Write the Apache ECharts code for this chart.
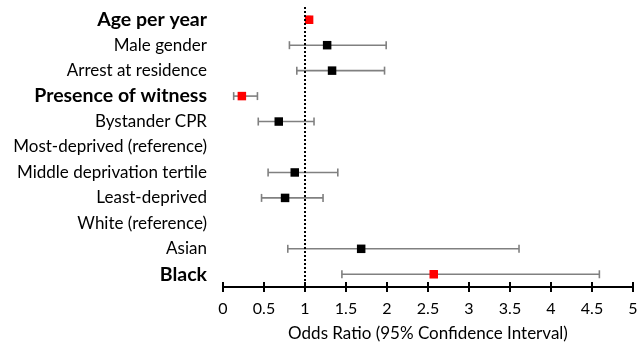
<!DOCTYPE html>
<html><head><meta charset="utf-8">
<script src="https://cdn.jsdelivr.net/npm/echarts@6/dist/echarts.min.js"></script>
<style>html,body{margin:0;padding:0;background:#fff}#c{width:638px;height:342px}</style>
</head><body><div id="c"></div>
<script>
const categories = ["Age per year","Male gender","Arrest at residence","Presence of witness","Bystander CPR","Most-deprived (reference)","Middle deprivation tertile","Least-deprived","White (reference)","Asian","Black"];
const oddsRatio = [1.05, 1.27, 1.33, 0.23, 0.68, null, 0.875, 0.757, null, 1.685, 2.57];
const ciLower   = [1.04, 0.81, 0.90, 0.13, 0.43, null, 0.55, 0.47, null, 0.79, 1.45];
const ciUpper   = [1.06, 1.99, 1.97, 0.42, 1.11, null, 1.40, 1.22, null, 3.61, 4.59];
const significant = [true, false, false, true, false, false, false, false, false, false, true];
const xTicks = [0, 0.5, 1, 1.5, 2, 2.5, 3, 3.5, 4, 4.5, 5];

const FONT = 'Lato';
const barData = [], pointData = [];
categories.forEach((c, i) => {
  if (oddsRatio[i] == null) return;
  barData.push([ciLower[i], ciUpper[i], i]);
  pointData.push({value: [oddsRatio[i], i], itemStyle: {color: significant[i] ? '#ff0000' : '#000000', opacity: 1}});
});

const chart = echarts.init(document.getElementById('c'));
const baseX = {
  type: 'value', min: 0, max: 5, interval: 0.5, position: 'bottom',
  splitLine: {show: false}
};
chart.setOption({
  animation: false,
  grid: {left: 223, right: 5, top: 7, bottom: 55, containLabel: false, outerBoundsMode: 'none'},
  xAxis: [
    Object.assign({}, baseX, {
      axisLine: {show: true, lineStyle: {color: '#000', width: 2}},
      axisTick: {show: true, length: 5, lineStyle: {color: '#000', width: 2}},
      axisLabel: {color: '#000', fontFamily: FONT, fontSize: 16, margin: 14,
        formatter: v => xTicks.includes(v) ? String(v) : ''},
      name: 'Odds Ratio (95% Confidence Interval)', nameLocation: 'middle', nameGap: 38,
      nameTextStyle: {color: '#000', fontFamily: FONT, fontSize: 17}
    }),
    Object.assign({}, baseX, {
      axisLine: {show: false},
      axisTick: {show: true, inside: true, length: 5, lineStyle: {color: '#000', width: 2}},
      axisLabel: {show: false}
    })
  ],
  yAxis: {
    type: 'category', data: categories, inverse: true,
    axisLine: {show: false}, axisTick: {show: false}, splitLine: {show: false},
    axisLabel: {
      margin: 16, color: '#000',
      formatter: (v) => significant[categories.indexOf(v)] ? '{b|' + v + '}' : '{n|' + v + '}',
      rich: {
        b: {fontFamily: FONT, fontSize: 19.5, fontWeight: 'bold', color: '#000'},
        n: {fontFamily: FONT, fontSize: 17, color: '#000'}
      }
    }
  },
  series: [
    {
      type: 'custom', xAxisIndex: 0, data: barData, z: 2,
      renderItem: (params, api) => {
        const y = api.value(2);
        const p1 = api.coord([api.value(0), y]);
        const p2 = api.coord([api.value(1), y]);
        const st = {stroke: '#808080', lineWidth: 1.6};
        const h = 4;
        return {type: 'group', children: [
          {type: 'line', shape: {x1: p1[0], y1: p1[1], x2: p2[0], y2: p2[1]}, style: st},
          {type: 'line', shape: {x1: p1[0], y1: p1[1]-h, x2: p1[0], y2: p1[1]+h}, style: st},
          {type: 'line', shape: {x1: p2[0], y1: p2[1]-h, x2: p2[0], y2: p2[1]+h}, style: st}
        ]};
      }
    },
    {
      type: 'scatter', xAxisIndex: 0, data: pointData, symbol: 'rect', symbolSize: 8.5, z: 4,
      markLine: {
        silent: true, symbol: 'none', label: {show: false},
        lineStyle: {color: '#000', type: [2, 2], width: 2, opacity: 1},
        data: [{xAxis: 1}]
      }
    }
  ]
});
</script></body></html>
